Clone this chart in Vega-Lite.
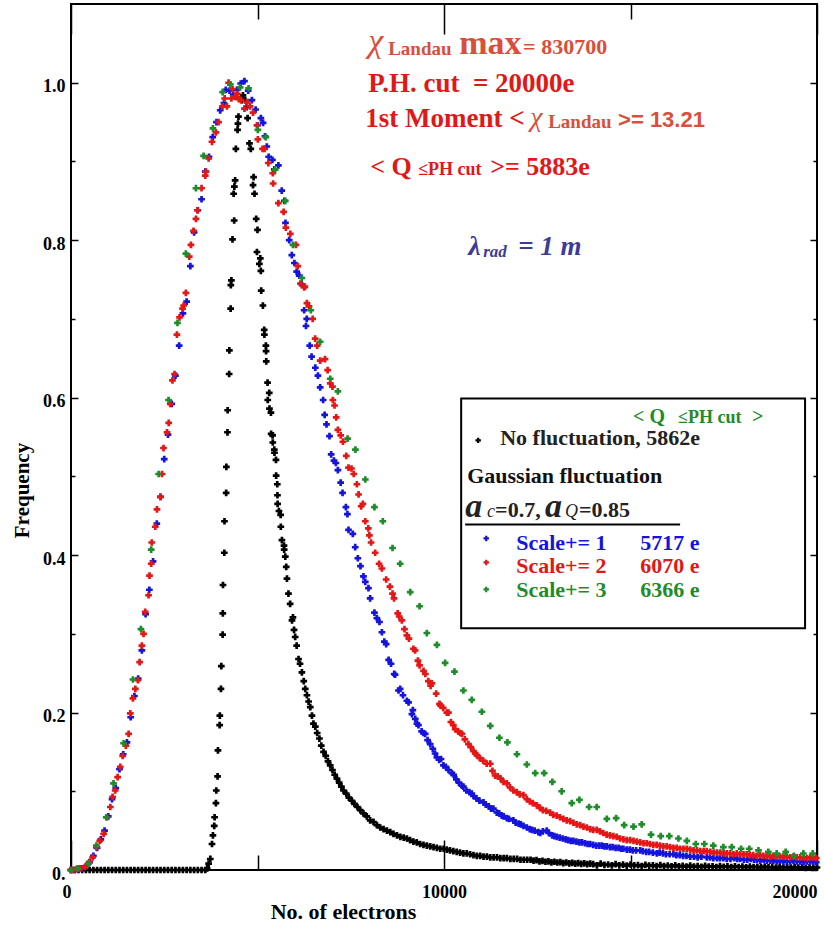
{
"$schema": "https://vega.github.io/schema/vega-lite/v6.json",
"width": 746, "height": 866,
"autosize": {"type": "none"},
"padding": {"left": 71, "top": 4, "right": 7, "bottom": 55},
"background": "white",
"data": {"values": [{}]},
"config": {
 "view": {"stroke": "black", "strokeWidth": 2},
 "axis": {"domain": false, "grid": false, "labelFont": "Liberation Serif", "labelFontWeight": "bold", "labelFontSize": 18, "labelColor": "black", "titleFont": "Liberation Serif", "titleFontWeight": "bold", "titleColor": "black", "tickColor": "black", "tickWidth": 1.5, "labelOverlap": false, "labelFlush": false}
},
"datasets": {
 "black": [
{"x":0,"y":0},{"x":100,"y":0},{"x":200,"y":0},{"x":300,"y":0},{"x":400,"y":0},{"x":500,"y":0},{"x":600,"y":0},{"x":700,"y":0},{"x":800,"y":0},{"x":900,"y":0},{"x":1000,"y":0},{"x":1100,"y":0},{"x":1200,"y":0},{"x":1300,"y":0},{"x":1400,"y":0},{"x":1500,"y":0},{"x":1600,"y":0},{"x":1700,"y":0},{"x":1800,"y":0},{"x":1900,"y":0},{"x":2000,"y":0},{"x":2100,"y":0},{"x":2200,"y":0},{"x":2300,"y":0},{"x":2400,"y":0},{"x":2500,"y":0},{"x":2600,"y":0},{"x":2700,"y":0},{"x":2800,"y":0},{"x":2900,"y":0},{"x":3000,"y":0},{"x":3100,"y":0},{"x":3200,"y":0},{"x":3300,"y":0},{"x":3400,"y":0},{"x":3500,"y":0},{"x":3600,"y":0},{"x":3650,"y":0.002},
{"x":3690,"y":0.008},{"x":3735,"y":0.014},{"x":3780,"y":0.033},{"x":3805,"y":0.044},{"x":3840,"y":0.056},{"x":3850,"y":0.067},{"x":3885,"y":0.085},{"x":3895,"y":0.101},{"x":3930,"y":0.119},{"x":3940,"y":0.152},{"x":3985,"y":0.184},{"x":3990,"y":0.196},{"x":4020,"y":0.23},{"x":4030,"y":0.259},{"x":4065,"y":0.299},{"x":4070,"y":0.326},{"x":4075,"y":0.362},{"x":4110,"y":0.403},{"x":4115,"y":0.443},{"x":4160,"y":0.479},{"x":4165,"y":0.512},{"x":4195,"y":0.556},{"x":4200,"y":0.584},{"x":4240,"y":0.63},{"x":4245,"y":0.66},{"x":4280,"y":0.713},{"x":4285,"y":0.743},{"x":4300,"y":0.749},{"x":4330,"y":0.801},{"x":4375,"y":0.825},{"x":4360,"y":0.859},{"x":4380,"y":0.868},{"x":4400,"y":0.876},{"x":4420,"y":0.916},{"x":4465,"y":0.94},{"x":4475,"y":0.948},{"x":4490,"y":0.957},{"x":4580,"y":0.978},{"x":4610,"y":0.984},{"x":4670,"y":0.978},{"x":4710,"y":0.969},{"x":4735,"y":0.955},{"x":4785,"y":0.923},{"x":4820,"y":0.916},{"x":4895,"y":0.88},{"x":4880,"y":0.87},{"x":4920,"y":0.859},{"x":4965,"y":0.827},{"x":5000,"y":0.813},{"x":4985,"y":0.785},{"x":5075,"y":0.777},{"x":5050,"y":0.77},{"x":5090,"y":0.761},{"x":5100,"y":0.736},{"x":5145,"y":0.717},{"x":5180,"y":0.686},{"x":5185,"y":0.68},{"x":5225,"y":0.666},{"x":5230,"y":0.659},{"x":5235,"y":0.646},{"x":5270,"y":0.619},{"x":5315,"y":0.606},{"x":5275,"y":0.597},{"x":5320,"y":0.586},{"x":5360,"y":0.581},{"x":5365,"y":0.554},{"x":5405,"y":0.552},{"x":5410,"y":0.543},{"x":5450,"y":0.534},{"x":5455,"y":0.53},{"x":5495,"y":0.521},{"x":5500,"y":0.501},{"x":5530,"y":0.49},{"x":5535,"y":0.476},{"x":5540,"y":0.465},{"x":5575,"y":0.456},{"x":5620,"y":0.451},{"x":5625,"y":0.436},{"x":5655,"y":0.419},{"x":5710,"y":0.412},{"x":5715,"y":0.407},{"x":5745,"y":0.398},{"x":5770,"y":0.385},{"x":5790,"y":0.37},
{"x":5830,"y":0.351},{"x":5875,"y":0.338},{"x":5925,"y":0.317},{"x":5950,"y":0.321},{"x":5980,"y":0.305},{"x":6010,"y":0.296},{"x":6050,"y":0.285},{"x":6100,"y":0.268},{"x":6140,"y":0.262},{"x":6190,"y":0.251},{"x":6240,"y":0.24},{"x":6280,"y":0.23},{"x":6325,"y":0.222},{"x":6370,"y":0.214},{"x":6415,"y":0.207},{"x":6460,"y":0.196},{"x":6500,"y":0.186},{"x":6550,"y":0.182},{"x":6600,"y":0.174},{"x":6660,"y":0.167},{"x":6710,"y":0.158},{"x":6770,"y":0.15},{"x":6830,"y":0.145},{"x":6890,"y":0.138},{"x":6950,"y":0.133},{"x":7010,"y":0.127},{"x":7070,"y":0.121},{"x":7130,"y":0.116},{"x":7190,"y":0.111},{"x":7250,"y":0.106},{"x":7305,"y":0.101},{"x":7380,"y":0.097},{"x":7450,"y":0.092},{"x":7530,"y":0.088},{"x":7600,"y":0.084},{"x":7680,"y":0.08},{"x":7755,"y":0.076},{"x":7840,"y":0.072},{"x":7930,"y":0.068},{"x":8020,"y":0.063},{"x":8110,"y":0.061},{"x":8200,"y":0.057},{"x":8290,"y":0.054},{"x":8380,"y":0.052},{"x":8470,"y":0.05},{"x":8560,"y":0.048},{"x":8645,"y":0.046},{"x":8740,"y":0.044},{"x":8830,"y":0.042},{"x":8920,"y":0.041},{"x":9005,"y":0.04},{"x":9090,"y":0.038},{"x":9180,"y":0.036},{"x":9270,"y":0.035},{"x":9360,"y":0.033},{"x":9450,"y":0.032},{"x":9540,"y":0.031},{"x":9630,"y":0.03},{"x":9720,"y":0.029},{"x":9810,"y":0.028},{"x":9900,"y":0.027},{"x":9990,"y":0.027},{"x":10075,"y":0.026},{"x":10160,"y":0.025},{"x":10250,"y":0.024},{"x":10340,"y":0.023},{"x":10430,"y":0.022},{"x":10520,"y":0.021},{"x":10610,"y":0.021},{"x":10700,"y":0.02},{"x":10790,"y":0.019},{"x":10880,"y":0.018},{"x":10970,"y":0.018},{"x":11060,"y":0.017},{"x":11150,"y":0.017},{"x":11240,"y":0.016},{"x":11330,"y":0.016},{"x":11420,"y":0.016},{"x":11510,"y":0.015},{"x":11600,"y":0.015},{"x":11685,"y":0.015},{"x":11780,"y":0.014},{"x":11870,"y":0.014},{"x":11960,"y":0.014},{"x":12050,"y":0.013},{"x":12140,"y":0.013},{"x":12230,"y":0.013},{"x":12320,"y":0.013},{"x":12400,"y":0.012},
{"x":12480,"y":0.0125},{"x":12560,"y":0.011},{"x":12640,"y":0.0115},{"x":12720,"y":0.0105},{"x":12800,"y":0.011},{"x":12880,"y":0.0098},{"x":12960,"y":0.0105},{"x":13040,"y":0.0095},{"x":13120,"y":0.01},{"x":13200,"y":0.0088},{"x":13280,"y":0.0095},{"x":13360,"y":0.0085},{"x":13440,"y":0.009},{"x":13520,"y":0.008},{"x":13600,"y":0.0087},{"x":13680,"y":0.0078},{"x":13760,"y":0.0083},{"x":13840,"y":0.0075},{"x":13920,"y":0.008},
{"x":14000,"y":0.0075},{"x":14100,"y":0.006},{"x":14200,"y":0.008},{"x":14300,"y":0.0065},{"x":14400,"y":0.007},{"x":14500,"y":0.0058},{"x":14600,"y":0.0075},{"x":14700,"y":0.006},{"x":14800,"y":0.0068},{"x":14900,"y":0.0055},{"x":15000,"y":0.007},{"x":15100,"y":0.0058},{"x":15200,"y":0.0063},{"x":15300,"y":0.005},{"x":15400,"y":0.0065},{"x":15500,"y":0.0055},{"x":15600,"y":0.006},{"x":15700,"y":0.0048},{"x":15800,"y":0.0062},{"x":15900,"y":0.005},{"x":16000,"y":0.0057},{"x":16100,"y":0.0046},{"x":16200,"y":0.0058},{"x":16300,"y":0.0047},{"x":16400,"y":0.0052},{"x":16500,"y":0.0044},{"x":16600,"y":0.0055},{"x":16700,"y":0.0043},{"x":16800,"y":0.005},{"x":16900,"y":0.004},{"x":17000,"y":0.0052},{"x":17100,"y":0.0042},{"x":17200,"y":0.0047},{"x":17300,"y":0.0038},{"x":17400,"y":0.0049},{"x":17500,"y":0.004},{"x":17600,"y":0.0045},{"x":17700,"y":0.0036},{"x":17800,"y":0.0046},{"x":17900,"y":0.0038},{"x":18000,"y":0.0043},{"x":18100,"y":0.0035},{"x":18200,"y":0.0044},{"x":18300,"y":0.0036},{"x":18400,"y":0.004},{"x":18500,"y":0.0033},{"x":18600,"y":0.0042},{"x":18700,"y":0.0034},{"x":18800,"y":0.0038},{"x":18900,"y":0.0031},{"x":19000,"y":0.004},{"x":19100,"y":0.0032},{"x":19200,"y":0.0036},{"x":19300,"y":0.003},{"x":19400,"y":0.0038},{"x":19500,"y":0.003},{"x":19600,"y":0.0034},{"x":19700,"y":0.0028},{"x":19800,"y":0.0035},{"x":19900,"y":0.0029},{"x":20000,"y":0.0032}
 ],
 "blue": [
{"x":0,"y":0},{"x":100,"y":0},{"x":200,"y":0.001},{"x":300,"y":0.002},{"x":400,"y":0.005},{"x":500,"y":0.01},{"x":600,"y":0.018},{"x":700,"y":0.028},{"x":800,"y":0.039},{"x":900,"y":0.05},{"x":1000,"y":0.068},{"x":1100,"y":0.09},{"x":1200,"y":0.104},{"x":1300,"y":0.128},{"x":1400,"y":0.147},{"x":1500,"y":0.162},{"x":1600,"y":0.194},{"x":1700,"y":0.221},{"x":1800,"y":0.243},{"x":1900,"y":0.279},{"x":2000,"y":0.325},{"x":2100,"y":0.356},{"x":2200,"y":0.392},{"x":2300,"y":0.44},{"x":2400,"y":0.474},{"x":2500,"y":0.522},{"x":2600,"y":0.553},{"x":2700,"y":0.592},{"x":2800,"y":0.628},{"x":2900,"y":0.666},{"x":3000,"y":0.707},{"x":3100,"y":0.722},{"x":3200,"y":0.767},{"x":3300,"y":0.81},{"x":3400,"y":0.838},{"x":3500,"y":0.852},{"x":3600,"y":0.887},{"x":3700,"y":0.906},{"x":3800,"y":0.931},{"x":3900,"y":0.95},{"x":4000,"y":0.965},{"x":4100,"y":0.974},{"x":4150,"y":0.991},{"x":4250,"y":0.99},{"x":4350,"y":0.985},{"x":4450,"y":0.991},{"x":4550,"y":0.999},{"x":4650,"y":1.002},{"x":4750,"y":0.99},{"x":4850,"y":0.978},{"x":4950,"y":0.966},{"x":5000,"y":0.946},{"x":5090,"y":0.955},{"x":5150,"y":0.949},{"x":5200,"y":0.932},{"x":5250,"y":0.919},{"x":5300,"y":0.906},{"x":5400,"y":0.902},{"x":5450,"y":0.89},{"x":5560,"y":0.895},{"x":5650,"y":0.863},{"x":5720,"y":0.85},{"x":5750,"y":0.822},{"x":5850,"y":0.8},{"x":5920,"y":0.781},{"x":5990,"y":0.771},{"x":6050,"y":0.76},{"x":6120,"y":0.755},{"x":6180,"y":0.744},{"x":6250,"y":0.711},{"x":6320,"y":0.7},{"x":6300,"y":0.691},{"x":6400,"y":0.666},{"x":6450,"y":0.652},{"x":6550,"y":0.638},{"x":6620,"y":0.628},{"x":6680,"y":0.613},{"x":6760,"y":0.597},{"x":6800,"y":0.578},{"x":6850,"y":0.566},{"x":6930,"y":0.551},{"x":6975,"y":0.528},{"x":7050,"y":0.52},{"x":7100,"y":0.517},{"x":7155,"y":0.508},{"x":7230,"y":0.492},{"x":7280,"y":0.479},{"x":7370,"y":0.461},{"x":7410,"y":0.452},{"x":7440,"y":0.432},{"x":7555,"y":0.427},{"x":7620,"y":0.41},{"x":7690,"y":0.396},{"x":7760,"y":0.386},{"x":7840,"y":0.373},{"x":7890,"y":0.366},{"x":7975,"y":0.358},{"x":8020,"y":0.345},{"x":8135,"y":0.327},{"x":8200,"y":0.32},{"x":8270,"y":0.315},{"x":8335,"y":0.302},{"x":8400,"y":0.29},{"x":8450,"y":0.287},{"x":8515,"y":0.267},{"x":8580,"y":0.262},{"x":8665,"y":0.249},{"x":8690,"y":0.248},{"x":8780,"y":0.228},{"x":8825,"y":0.23},{"x":8900,"y":0.222},{"x":9005,"y":0.215},{"x":9050,"y":0.213},{"x":9140,"y":0.198},{"x":9165,"y":0.203},{"x":9230,"y":0.192},{"x":9275,"y":0.186},{"x":9315,"y":0.184},{"x":9400,"y":0.176},{"x":9450,"y":0.174},{"x":9495,"y":0.173},{"x":9560,"y":0.165},{"x":9630,"y":0.16},{"x":9700,"y":0.154},{"x":9760,"y":0.148},{"x":9810,"y":0.143},{"x":9870,"y":0.14},{"x":9920,"y":0.141},{"x":9985,"y":0.133},{"x":10050,"y":0.131},{"x":10120,"y":0.127},{"x":10210,"y":0.123},{"x":10260,"y":0.121},{"x":10330,"y":0.115},{"x":10400,"y":0.111},{"x":10480,"y":0.107},{"x":10520,"y":0.106},{"x":10600,"y":0.101},{"x":10680,"y":0.099},{"x":10745,"y":0.097},{"x":10790,"y":0.094},{"x":10870,"y":0.091},{"x":10950,"y":0.088},{"x":11060,"y":0.086},{"x":11120,"y":0.083},{"x":11200,"y":0.081},{"x":11260,"y":0.078},{"x":11325,"y":0.078},{"x":11415,"y":0.073},{"x":11480,"y":0.072},{"x":11550,"y":0.069},{"x":11600,"y":0.068},{"x":11685,"y":0.066},{"x":11740,"y":0.065},{"x":11860,"y":0.063},{"x":11920,"y":0.06},{"x":12000,"y":0.059},{"x":12060,"y":0.058},{"x":12130,"y":0.056},{"x":12220,"y":0.054},{"x":12300,"y":0.052},{"x":12360,"y":0.051},{"x":12430,"y":0.05},{"x":12530,"y":0.048},{"x":12580,"y":0.047},{"x":12650,"y":0.049},{"x":12755,"y":0.05},{"x":12810,"y":0.047},{"x":12900,"y":0.044},{"x":12960,"y":0.043},{"x":13025,"y":0.042},{"x":13100,"y":0.041},{"x":13180,"y":0.04},{"x":13260,"y":0.039},{"x":13330,"y":0.038},{"x":13400,"y":0.037},{"x":13470,"y":0.037},{"x":13550,"y":0.036},{"x":13630,"y":0.035},{"x":13700,"y":0.035},{"x":13780,"y":0.034},{"x":13850,"y":0.033},{"x":13920,"y":0.033},{"x":14000,"y":0.032},{"x":14080,"y":0.031},{"x":14160,"y":0.031},{"x":14230,"y":0.031},{"x":14300,"y":0.03},{"x":14365,"y":0.03},{"x":14450,"y":0.029},{"x":14520,"y":0.029},{"x":14600,"y":0.028},{"x":14680,"y":0.028},{"x":14750,"y":0.027},{"x":14810,"y":0.027},{"x":14900,"y":0.026},{"x":14980,"y":0.026},{"x":15060,"y":0.025},{"x":15150,"y":0.025},{"x":15260,"y":0.025},{"x":15330,"y":0.024},{"x":15420,"y":0.023},{"x":15500,"y":0.023},{"x":15600,"y":0.022},{"x":15705,"y":0.021},{"x":15780,"y":0.022},{"x":15870,"y":0.021},{"x":15950,"y":0.02},{"x":16050,"y":0.02},{"x":16150,"y":0.02},{"x":16230,"y":0.019},{"x":16320,"y":0.019},{"x":16410,"y":0.018},{"x":16500,"y":0.018},{"x":16600,"y":0.017},{"x":16700,"y":0.017},{"x":16800,"y":0.016},{"x":16900,"y":0.017},{"x":17045,"y":0.016},{"x":17130,"y":0.016},{"x":17220,"y":0.015},{"x":17320,"y":0.015},{"x":17400,"y":0.015},{"x":17490,"y":0.015},{"x":17580,"y":0.014},{"x":17680,"y":0.014},{"x":17780,"y":0.015},{"x":17860,"y":0.014},{"x":17940,"y":0.014},{"x":18040,"y":0.013},{"x":18130,"y":0.013},{"x":18220,"y":0.014},{"x":18310,"y":0.013},{"x":18385,"y":0.013},{"x":18480,"y":0.012},{"x":18570,"y":0.013},{"x":18660,"y":0.012},{"x":18750,"y":0.012},{"x":18830,"y":0.012},{"x":18920,"y":0.011},{"x":19010,"y":0.012},{"x":19100,"y":0.011},{"x":19190,"y":0.011},{"x":19280,"y":0.011},{"x":19370,"y":0.012},{"x":19460,"y":0.011},{"x":19550,"y":0.011},{"x":19640,"y":0.01},{"x":19730,"y":0.011},{"x":19820,"y":0.011},{"x":19900,"y":0.011},{"x":19980,"y":0.01}
 ],
 "red": [
{"x":0,"y":0},{"x":60,"y":0},{"x":150,"y":0.001},{"x":250,"y":0.002},{"x":380,"y":0.004},{"x":490,"y":0.01},{"x":580,"y":0.016},{"x":680,"y":0.029},{"x":770,"y":0.037},{"x":875,"y":0.046},{"x":965,"y":0.067},{"x":1055,"y":0.08},{"x":1115,"y":0.093},{"x":1185,"y":0.101},{"x":1250,"y":0.118},{"x":1320,"y":0.131},{"x":1385,"y":0.145},{"x":1470,"y":0.158},{"x":1545,"y":0.173},{"x":1590,"y":0.199},{"x":1660,"y":0.218},{"x":1725,"y":0.23},{"x":1795,"y":0.241},{"x":1840,"y":0.264},{"x":1900,"y":0.285},{"x":1945,"y":0.3},{"x":1990,"y":0.328},{"x":2080,"y":0.349},{"x":2105,"y":0.374},{"x":2150,"y":0.389},{"x":2165,"y":0.416},{"x":2260,"y":0.436},{"x":2305,"y":0.458},{"x":2395,"y":0.474},{"x":2440,"y":0.503},{"x":2480,"y":0.536},{"x":2575,"y":0.556},{"x":2620,"y":0.568},{"x":2660,"y":0.592},{"x":2720,"y":0.622},{"x":2775,"y":0.63},{"x":2840,"y":0.68},{"x":2910,"y":0.702},{"x":2990,"y":0.713},{"x":3020,"y":0.717},{"x":3080,"y":0.733},{"x":3170,"y":0.779},{"x":3215,"y":0.794},{"x":3285,"y":0.812},{"x":3350,"y":0.827},{"x":3390,"y":0.838},{"x":3500,"y":0.866},{"x":3600,"y":0.882},{"x":3620,"y":0.887},{"x":3690,"y":0.904},{"x":3780,"y":0.925},{"x":3885,"y":0.937},{"x":3955,"y":0.95},{"x":4060,"y":0.97},{"x":4120,"y":0.98},{"x":4180,"y":0.97},{"x":4225,"y":1.0},{"x":4300,"y":0.98},{"x":4330,"y":0.992},{"x":4400,"y":0.982},{"x":4460,"y":0.986},{"x":4500,"y":0.979},{"x":4560,"y":0.978},{"x":4650,"y":0.967},{"x":4720,"y":0.975},{"x":4800,"y":0.97},{"x":4880,"y":0.962},{"x":4985,"y":0.946},{"x":5010,"y":0.928},{"x":5135,"y":0.916},{"x":5190,"y":0.916},{"x":5290,"y":0.898},{"x":5410,"y":0.885},{"x":5420,"y":0.872},{"x":5560,"y":0.847},{"x":5700,"y":0.836},{"x":5760,"y":0.816},{"x":5880,"y":0.808},{"x":6030,"y":0.794},{"x":6080,"y":0.767},{"x":6150,"y":0.745},{"x":6250,"y":0.74},{"x":6270,"y":0.741},{"x":6325,"y":0.72},{"x":6380,"y":0.716},{"x":6480,"y":0.7},{"x":6545,"y":0.675},{"x":6600,"y":0.666},{"x":6680,"y":0.647},{"x":6810,"y":0.649},{"x":6880,"y":0.635},{"x":6950,"y":0.618},{"x":7010,"y":0.614},{"x":7020,"y":0.597},{"x":7065,"y":0.59},{"x":7110,"y":0.575},{"x":7155,"y":0.559},{"x":7230,"y":0.552},{"x":7290,"y":0.544},{"x":7380,"y":0.526},{"x":7440,"y":0.511},{"x":7520,"y":0.51},{"x":7580,"y":0.503},{"x":7665,"y":0.49},{"x":7710,"y":0.477},{"x":7780,"y":0.462},{"x":7825,"y":0.465},{"x":7890,"y":0.443},{"x":7970,"y":0.434},{"x":8000,"y":0.425},{"x":8045,"y":0.416},{"x":8155,"y":0.403},{"x":8260,"y":0.389},{"x":8335,"y":0.383},{"x":8450,"y":0.369},{"x":8550,"y":0.36},{"x":8620,"y":0.351},{"x":8660,"y":0.345},{"x":8760,"y":0.326},{"x":8800,"y":0.322},{"x":8870,"y":0.317},{"x":8940,"y":0.306},{"x":9005,"y":0.298},{"x":9060,"y":0.294},{"x":9180,"y":0.281},{"x":9225,"y":0.279},{"x":9300,"y":0.266},{"x":9345,"y":0.26},{"x":9450,"y":0.253},{"x":9500,"y":0.249},{"x":9580,"y":0.24},{"x":9640,"y":0.234},{"x":9675,"y":0.237},{"x":9790,"y":0.224},{"x":9880,"y":0.211},{"x":9900,"y":0.209},{"x":9980,"y":0.206},{"x":10075,"y":0.2},{"x":10120,"y":0.2},{"x":10185,"y":0.188},{"x":10250,"y":0.184},{"x":10300,"y":0.179},{"x":10380,"y":0.176},{"x":10435,"y":0.174},{"x":10480,"y":0.173},{"x":10560,"y":0.166},{"x":10655,"y":0.16},{"x":10720,"y":0.156},{"x":10790,"y":0.151},{"x":10840,"y":0.148},{"x":10880,"y":0.146},{"x":10960,"y":0.142},{"x":11050,"y":0.139},{"x":11145,"y":0.135},{"x":11240,"y":0.135},{"x":11300,"y":0.126},{"x":11370,"y":0.12},{"x":11440,"y":0.119},{"x":11520,"y":0.116},{"x":11595,"y":0.112},{"x":11685,"y":0.11},{"x":11770,"y":0.105},{"x":11860,"y":0.101},{"x":11950,"y":0.099},{"x":12030,"y":0.096},{"x":12130,"y":0.095},{"x":12220,"y":0.09},{"x":12300,"y":0.087},{"x":12380,"y":0.085},{"x":12490,"y":0.082},{"x":12570,"y":0.079},{"x":12650,"y":0.076},{"x":12740,"y":0.075},{"x":12845,"y":0.073},{"x":12930,"y":0.07},{"x":13020,"y":0.069},{"x":13110,"y":0.067},{"x":13200,"y":0.065},{"x":13290,"y":0.063},{"x":13380,"y":0.062},{"x":13470,"y":0.06},{"x":13560,"y":0.058},{"x":13650,"y":0.057},{"x":13740,"y":0.055},{"x":13830,"y":0.054},{"x":13920,"y":0.052},{"x":14000,"y":0.051},{"x":14095,"y":0.051},{"x":14180,"y":0.049},{"x":14270,"y":0.047},{"x":14360,"y":0.045},{"x":14450,"y":0.044},{"x":14540,"y":0.043},{"x":14630,"y":0.042},{"x":14720,"y":0.04},{"x":14810,"y":0.039},{"x":14900,"y":0.038},{"x":14990,"y":0.038},{"x":15080,"y":0.037},{"x":15170,"y":0.036},{"x":15260,"y":0.035},{"x":15350,"y":0.034},{"x":15435,"y":0.034},{"x":15520,"y":0.033},{"x":15610,"y":0.032},{"x":15700,"y":0.032},{"x":15790,"y":0.031},{"x":15880,"y":0.03},{"x":15970,"y":0.03},{"x":16060,"y":0.029},{"x":16150,"y":0.028},{"x":16240,"y":0.028},{"x":16330,"y":0.027},{"x":16420,"y":0.027},{"x":16510,"y":0.027},{"x":16600,"y":0.026},{"x":16690,"y":0.025},{"x":16780,"y":0.025},{"x":16870,"y":0.024},{"x":16960,"y":0.024},{"x":17045,"y":0.024},{"x":17140,"y":0.023},{"x":17230,"y":0.022},{"x":17320,"y":0.022},{"x":17410,"y":0.022},{"x":17500,"y":0.021},{"x":17580,"y":0.021},{"x":17670,"y":0.021},{"x":17760,"y":0.02},{"x":17850,"y":0.021},{"x":17940,"y":0.02},{"x":18030,"y":0.02},{"x":18115,"y":0.02},{"x":18200,"y":0.019},{"x":18290,"y":0.019},{"x":18380,"y":0.018},{"x":18470,"y":0.019},{"x":18560,"y":0.018},{"x":18650,"y":0.018},{"x":18740,"y":0.017},{"x":18830,"y":0.018},{"x":18920,"y":0.017},{"x":19010,"y":0.017},{"x":19100,"y":0.017},{"x":19190,"y":0.017},{"x":19280,"y":0.016},{"x":19370,"y":0.017},{"x":19460,"y":0.016},{"x":19550,"y":0.016},{"x":19640,"y":0.016},{"x":19730,"y":0.015},{"x":19820,"y":0.016},{"x":19900,"y":0.016},{"x":19980,"y":0.015}
 ],
 "green": [
{"x":0,"y":0},{"x":180,"y":0.002},{"x":470,"y":0.008},{"x":680,"y":0.031},{"x":945,"y":0.067},{"x":1140,"y":0.11},{"x":1410,"y":0.161},{"x":1660,"y":0.242},{"x":1875,"y":0.306},{"x":2150,"y":0.407},{"x":2350,"y":0.503},{"x":2615,"y":0.597},{"x":2855,"y":0.695},{"x":3080,"y":0.783},{"x":3350,"y":0.866},{"x":3555,"y":0.907},{"x":3805,"y":0.942},{"x":4065,"y":0.988},{"x":4270,"y":0.998},{"x":4535,"y":0.994},{"x":4760,"y":0.993},{"x":5010,"y":0.94},{"x":5225,"y":0.931},{"x":5475,"y":0.89},{"x":5745,"y":0.85},{"x":5950,"y":0.794},{"x":6190,"y":0.752},{"x":6430,"y":0.711},{"x":6680,"y":0.671},{"x":6950,"y":0.624},{"x":7155,"y":0.608},{"x":7415,"y":0.548},{"x":7625,"y":0.534},{"x":7890,"y":0.496},{"x":8135,"y":0.461},{"x":8360,"y":0.443},{"x":8620,"y":0.409},{"x":8825,"y":0.389},{"x":9095,"y":0.353},{"x":9345,"y":0.335},{"x":9540,"y":0.301},{"x":9810,"y":0.286},{"x":10030,"y":0.263},{"x":10280,"y":0.252},{"x":10520,"y":0.228},{"x":10745,"y":0.216},{"x":11015,"y":0.201},{"x":11240,"y":0.183},{"x":11485,"y":0.168},{"x":11700,"y":0.162},{"x":11955,"y":0.147},{"x":12220,"y":0.134},{"x":12445,"y":0.123},{"x":12685,"y":0.123},{"x":12905,"y":0.112},{"x":13155,"y":0.1},{"x":13425,"y":0.085},{"x":13630,"y":0.089},{"x":13890,"y":0.08},{"x":14095,"y":0.08},{"x":14365,"y":0.065},{"x":14615,"y":0.066},{"x":14830,"y":0.057},{"x":15080,"y":0.055},{"x":15300,"y":0.058},{"x":15550,"y":0.045},{"x":15810,"y":0.043},{"x":16040,"y":0.043},{"x":16285,"y":0.04},{"x":16510,"y":0.037},{"x":16750,"y":0.033},{"x":16980,"y":0.033},{"x":17220,"y":0.031},{"x":17490,"y":0.029},{"x":17715,"y":0.029},{"x":17965,"y":0.027},{"x":18185,"y":0.027},{"x":18430,"y":0.025},{"x":18695,"y":0.023},{"x":18920,"y":0.021},{"x":19160,"y":0.023},{"x":19385,"y":0.018},{"x":19635,"y":0.021},{"x":19885,"y":0.021}
 ]
},
"layer": [
 {"data": {"name": "black"},
  "mark": {"type": "point", "shape": "cross", "filled": true, "size": 45, "color": "black", "opacity": 1},
  "encoding": {
   "x": {"field": "x", "type": "quantitative", "scale": {"domain": [0, 20000], "nice": false},
    "axis": {"orient": "bottom", "values": [0, 5000, 10000, 15000, 20000],
     "tickSize": {"condition": {"test": "datum.value % 10000 == 0", "value": -30}, "value": -15},
     "labelPadding": 43,
     "labelExpr": "datum.value % 10000 == 0 ? format(datum.value, 'd') : ''",
     "labelAlign": {"condition": {"test": "datum.value == 10000", "value": "center"}, "value": "right"},
     "title": "No. of electrons", "titleFontSize": 22, "titleX": 272, "titleY": 48, "titleBaseline": "alphabetic", "titleAlign": "center"}},
   "y": {"field": "y", "type": "quantitative", "scale": {"domain": [0, 1.1], "nice": false},
    "axis": {"orient": "left", "values": [0, 0.1, 0.2, 0.3, 0.4, 0.5, 0.6, 0.7, 0.8, 0.9, 1],
     "tickSize": {"condition": {"test": "round(datum.value * 10) % 2 == 0", "value": -7}, "value": -4},
     "labelPadding": 13, "labelOffset": 4,
     "labelExpr": "round(datum.value * 10) % 2 == 1 ? '' : (datum.value == 0 ? '0.' : format(datum.value, '.1f'))",
     "title": "Frequency", "titleFontSize": 21, "titleX": -43, "titleY": 486, "titleBaseline": "alphabetic", "titleAlign": "center"}}
  }},
 {"data": {"name": "blue"},
  "mark": {"type": "point", "shape": "cross", "filled": true, "size": 45, "color": "#1414dc", "opacity": 1},
  "encoding": {
   "x": {"field": "x", "type": "quantitative", "scale": {"domain": [0, 20000], "nice": false},
    "axis": {"orient": "top", "values": [0, 5000, 10000, 15000, 20000], "labels": false,
     "tickSize": {"condition": {"test": "datum.value % 10000 == 0", "value": -30}, "value": -15}, "title": null}},
   "y": {"field": "y", "type": "quantitative", "scale": {"domain": [0, 1.1], "nice": false},
    "axis": {"orient": "right", "values": [0, 0.1, 0.2, 0.3, 0.4, 0.5, 0.6, 0.7, 0.8, 0.9, 1], "labels": false,
     "tickSize": {"condition": {"test": "round(datum.value * 10) % 2 == 0", "value": -7}, "value": -4}, "title": null}}
  }},
 {"data": {"name": "red"},
  "mark": {"type": "point", "shape": "cross", "filled": true, "size": 45, "color": "#e41616", "opacity": 1},
  "encoding": {
   "x": {"field": "x", "type": "quantitative", "scale": {"domain": [0, 20000], "nice": false}, "axis": null},
   "y": {"field": "y", "type": "quantitative", "scale": {"domain": [0, 1.1], "nice": false}, "axis": null}
  }},
 {"data": {"name": "green"},
  "mark": {"type": "point", "shape": "cross", "filled": true, "size": 45, "color": "#1e8c2a", "opacity": 1},
  "encoding": {
   "x": {"field": "x", "type": "quantitative", "scale": {"domain": [0, 20000], "nice": false}, "axis": null},
   "y": {"field": "y", "type": "quantitative", "scale": {"domain": [0, 1.1], "nice": false}, "axis": null}
  }},
 {"mark": {"type": "rect", "fill": "white", "stroke": "black", "strokeWidth": 2},
  "encoding": {
   "x": {"datum": 10460, "type": "quantitative", "axis": null},
   "x2": {"datum": 19680},
   "y": {"datum": 0.599, "type": "quantitative", "axis": null},
   "y2": {"datum": 0.307}
  }},
 {"mark": {"type": "rule", "stroke": "black", "strokeWidth": 2},
  "encoding": {
   "x": {"datum": 10567, "type": "quantitative", "axis": null},
   "x2": {"datum": 16330},
   "y": {"datum": 0.439, "type": "quantitative", "axis": null}
  }},
 {"mark": {"type": "text", "text": "χ", "font": "Liberation Serif", "fontStyle": "italic", "fontSize": 34, "color": "#d8503c", "align": "left", "baseline": "alphabetic"},
  "encoding": {"x": {"datum": 7968, "type": "quantitative", "axis": null}, "y": {"datum": 1.039, "type": "quantitative", "axis": null}}},
 {"mark": {"type": "text", "text": "Landau", "font": "Liberation Serif", "fontWeight": "bold", "fontSize": 19, "color": "#d8503c", "align": "left", "baseline": "alphabetic"},
  "encoding": {"x": {"datum": 8504, "type": "quantitative", "axis": null}, "y": {"datum": 1.035, "type": "quantitative", "axis": null}}},
 {"mark": {"type": "text", "text": "max", "font": "Liberation Serif", "fontWeight": "bold", "fontSize": 34, "color": "#d8503c", "align": "left", "baseline": "alphabetic"},
  "encoding": {"x": {"datum": 10406, "type": "quantitative", "axis": null}, "y": {"datum": 1.036, "type": "quantitative", "axis": null}}},
 {"mark": {"type": "text", "text": "= 830700", "font": "Liberation Serif", "fontWeight": "bold", "fontSize": 22, "color": "#d8503c", "align": "left", "baseline": "alphabetic"},
  "encoding": {"x": {"datum": 12121, "type": "quantitative", "axis": null}, "y": {"datum": 1.036, "type": "quantitative", "axis": null}}},
 {"mark": {"type": "text", "text": "P.H. cut\u00a0 = 20000e", "font": "Liberation Serif", "fontWeight": "bold", "fontSize": 27, "color": "#e01818", "align": "left", "baseline": "alphabetic"},
  "encoding": {"x": {"datum": 7968, "type": "quantitative", "axis": null}, "y": {"datum": 0.988, "type": "quantitative", "axis": null}}},
 {"mark": {"type": "text", "text": "1st Moment <", "font": "Liberation Serif", "fontWeight": "bold", "fontSize": 27, "color": "#e01818", "align": "left", "baseline": "alphabetic"},
  "encoding": {"x": {"datum": 7888, "type": "quantitative", "axis": null}, "y": {"datum": 0.9435, "type": "quantitative", "axis": null}}},
 {"mark": {"type": "text", "text": "χ", "font": "Liberation Serif", "fontStyle": "italic", "fontSize": 28, "color": "#d8503c", "align": "left", "baseline": "alphabetic"},
  "encoding": {"x": {"datum": 12309, "type": "quantitative", "axis": null}, "y": {"datum": 0.9447, "type": "quantitative", "axis": null}}},
 {"mark": {"type": "text", "text": "Landau", "font": "Liberation Serif", "fontWeight": "bold", "fontSize": 19, "color": "#d8503c", "align": "left", "baseline": "alphabetic"},
  "encoding": {"x": {"datum": 12792, "type": "quantitative", "axis": null}, "y": {"datum": 0.9422, "type": "quantitative", "axis": null}}},
 {"mark": {"type": "text", "text": ">= 13.21", "font": "Liberation Sans", "fontWeight": "bold", "fontSize": 22, "color": "#d8503c", "align": "left", "baseline": "alphabetic"},
  "encoding": {"x": {"datum": 14667, "type": "quantitative", "axis": null}, "y": {"datum": 0.9435, "type": "quantitative", "axis": null}}},
 {"mark": {"type": "text", "text": "< Q", "font": "Liberation Serif", "fontWeight": "bold", "fontSize": 26, "color": "#e01818", "align": "left", "baseline": "alphabetic"},
  "encoding": {"x": {"datum": 8022, "type": "quantitative", "axis": null}, "y": {"datum": 0.8825, "type": "quantitative", "axis": null}}},
 {"mark": {"type": "text", "text": "≤PH cut", "font": "Liberation Serif", "fontWeight": "bold", "fontSize": 18, "color": "#e01818", "align": "left", "baseline": "alphabetic"},
  "encoding": {"x": {"datum": 9309, "type": "quantitative", "axis": null}, "y": {"datum": 0.8825, "type": "quantitative", "axis": null}}},
 {"mark": {"type": "text", "text": ">= 5883e", "font": "Liberation Serif", "fontWeight": "bold", "fontSize": 26, "color": "#e01818", "align": "left", "baseline": "alphabetic"},
  "encoding": {"x": {"datum": 11238, "type": "quantitative", "axis": null}, "y": {"datum": 0.8825, "type": "quantitative", "axis": null}}},
 {"mark": {"type": "text", "text": "λ", "font": "Liberation Serif", "fontStyle": "italic", "fontWeight": "bold", "fontSize": 28, "color": "#3c3c96", "align": "left", "baseline": "alphabetic"},
  "encoding": {"x": {"datum": 10648, "type": "quantitative", "axis": null}, "y": {"datum": 0.7808, "type": "quantitative", "axis": null}}},
 {"mark": {"type": "text", "text": "rad", "font": "Liberation Serif", "fontStyle": "italic", "fontWeight": "bold", "fontSize": 17, "color": "#3c3c96", "align": "left", "baseline": "alphabetic"},
  "encoding": {"x": {"datum": 11050, "type": "quantitative", "axis": null}, "y": {"datum": 0.7783, "type": "quantitative", "axis": null}}},
 {"mark": {"type": "text", "text": "= 1 m", "font": "Liberation Serif", "fontStyle": "italic", "fontWeight": "bold", "fontSize": 27, "color": "#3c3c96", "align": "left", "baseline": "alphabetic"},
  "encoding": {"x": {"datum": 11988, "type": "quantitative", "axis": null}, "y": {"datum": 0.7808, "type": "quantitative", "axis": null}}},
 {"mark": {"type": "text", "text": "< Q", "font": "Liberation Serif", "fontWeight": "bold", "fontSize": 20, "color": "#1e8c2a", "align": "left", "baseline": "alphabetic"},
  "encoding": {"x": {"datum": 15070, "type": "quantitative", "axis": null}, "y": {"datum": 0.5673, "type": "quantitative", "axis": null}}},
 {"mark": {"type": "text", "text": "≤PH cut", "font": "Liberation Serif", "fontWeight": "bold", "fontSize": 18, "color": "#1e8c2a", "align": "left", "baseline": "alphabetic"},
  "encoding": {"x": {"datum": 16276, "type": "quantitative", "axis": null}, "y": {"datum": 0.5673, "type": "quantitative", "axis": null}}},
 {"mark": {"type": "text", "text": ">", "font": "Liberation Serif", "fontWeight": "bold", "fontSize": 20, "color": "#1e8c2a", "align": "left", "baseline": "alphabetic"},
  "encoding": {"x": {"datum": 18260, "type": "quantitative", "axis": null}, "y": {"datum": 0.5673, "type": "quantitative", "axis": null}}},
 {"mark": {"type": "point", "shape": "cross", "filled": true, "size": 30, "color": "black", "opacity": 1},
  "encoding": {"x": {"datum": 10916, "type": "quantitative", "axis": null}, "y": {"datum": 0.5457, "type": "quantitative", "axis": null}}},
 {"mark": {"type": "text", "text": "No fluctuation, 5862e", "font": "Liberation Serif", "fontWeight": "bold", "fontSize": 22, "color": "#222222", "align": "left", "baseline": "alphabetic"},
  "encoding": {"x": {"datum": 11506, "type": "quantitative", "axis": null}, "y": {"datum": 0.5394, "type": "quantitative", "axis": null}}},
 {"mark": {"type": "text", "text": "Gaussian fluctuation", "font": "Liberation Serif", "fontWeight": "bold", "fontSize": 22, "color": "#111111", "align": "left", "baseline": "alphabetic"},
  "encoding": {"x": {"datum": 10621, "type": "quantitative", "axis": null}, "y": {"datum": 0.4911, "type": "quantitative", "axis": null}}},
 {"mark": {"type": "text", "text": "a", "font": "Liberation Serif", "fontStyle": "italic", "fontWeight": "bold", "fontSize": 34, "color": "#222222", "align": "left", "baseline": "alphabetic"},
  "encoding": {"x": {"datum": 10567, "type": "quantitative", "axis": null}, "y": {"datum": 0.4479, "type": "quantitative", "axis": null}}},
 {"mark": {"type": "text", "text": "c", "font": "Liberation Serif", "fontStyle": "italic", "fontSize": 18, "color": "#222222", "align": "left", "baseline": "alphabetic"},
  "encoding": {"x": {"datum": 11156, "type": "quantitative", "axis": null}, "y": {"datum": 0.4479, "type": "quantitative", "axis": null}}},
 {"mark": {"type": "text", "text": "=0.7,", "font": "Liberation Serif", "fontWeight": "bold", "fontSize": 22, "color": "#222222", "align": "left", "baseline": "alphabetic"},
  "encoding": {"x": {"datum": 11370, "type": "quantitative", "axis": null}, "y": {"datum": 0.4479, "type": "quantitative", "axis": null}}},
 {"mark": {"type": "text", "text": "a", "font": "Liberation Serif", "fontStyle": "italic", "fontWeight": "bold", "fontSize": 34, "color": "#222222", "align": "left", "baseline": "alphabetic"},
  "encoding": {"x": {"datum": 12710, "type": "quantitative", "axis": null}, "y": {"datum": 0.4479, "type": "quantitative", "axis": null}}},
 {"mark": {"type": "text", "text": "Q", "font": "Liberation Serif", "fontStyle": "italic", "fontSize": 18, "color": "#222222", "align": "left", "baseline": "alphabetic"},
  "encoding": {"x": {"datum": 13246, "type": "quantitative", "axis": null}, "y": {"datum": 0.4479, "type": "quantitative", "axis": null}}},
 {"mark": {"type": "text", "text": "=0.85", "font": "Liberation Serif", "fontWeight": "bold", "fontSize": 22, "color": "#222222", "align": "left", "baseline": "alphabetic"},
  "encoding": {"x": {"datum": 13620, "type": "quantitative", "axis": null}, "y": {"datum": 0.4479, "type": "quantitative", "axis": null}}},
 {"mark": {"type": "point", "shape": "cross", "filled": true, "size": 30, "color": "#1414dc", "opacity": 1},
  "encoding": {"x": {"datum": 11132, "type": "quantitative", "axis": null}, "y": {"datum": 0.4212, "type": "quantitative", "axis": null}}},
 {"mark": {"type": "point", "shape": "cross", "filled": true, "size": 30, "color": "#e41616", "opacity": 1},
  "encoding": {"x": {"datum": 11132, "type": "quantitative", "axis": null}, "y": {"datum": 0.3907, "type": "quantitative", "axis": null}}},
 {"mark": {"type": "point", "shape": "cross", "filled": true, "size": 30, "color": "#1e8c2a", "opacity": 1},
  "encoding": {"x": {"datum": 11132, "type": "quantitative", "axis": null}, "y": {"datum": 0.3564, "type": "quantitative", "axis": null}}},
 {"mark": {"type": "text", "text": "Scale+= 1", "font": "Liberation Serif", "fontWeight": "bold", "fontSize": 22, "color": "#1414dc", "align": "left", "baseline": "alphabetic"},
  "encoding": {"x": {"datum": 11935, "type": "quantitative", "axis": null}, "y": {"datum": 0.406, "type": "quantitative", "axis": null}}},
 {"mark": {"type": "text", "text": "5717 e", "font": "Liberation Serif", "fontWeight": "bold", "fontSize": 22, "color": "#1414dc", "align": "left", "baseline": "alphabetic"},
  "encoding": {"x": {"datum": 15261, "type": "quantitative", "axis": null}, "y": {"datum": 0.406, "type": "quantitative", "axis": null}}},
 {"mark": {"type": "text", "text": "Scale+= 2", "font": "Liberation Serif", "fontWeight": "bold", "fontSize": 22, "color": "#e41616", "align": "left", "baseline": "alphabetic"},
  "encoding": {"x": {"datum": 11935, "type": "quantitative", "axis": null}, "y": {"datum": 0.3767, "type": "quantitative", "axis": null}}},
 {"mark": {"type": "text", "text": "6070 e", "font": "Liberation Serif", "fontWeight": "bold", "fontSize": 22, "color": "#e41616", "align": "left", "baseline": "alphabetic"},
  "encoding": {"x": {"datum": 15261, "type": "quantitative", "axis": null}, "y": {"datum": 0.3767, "type": "quantitative", "axis": null}}},
 {"mark": {"type": "text", "text": "Scale+= 3", "font": "Liberation Serif", "fontWeight": "bold", "fontSize": 22, "color": "#1e8c2a", "align": "left", "baseline": "alphabetic"},
  "encoding": {"x": {"datum": 11935, "type": "quantitative", "axis": null}, "y": {"datum": 0.3463, "type": "quantitative", "axis": null}}},
 {"mark": {"type": "text", "text": "6366 e", "font": "Liberation Serif", "fontWeight": "bold", "fontSize": 22, "color": "#1e8c2a", "align": "left", "baseline": "alphabetic"},
  "encoding": {"x": {"datum": 15261, "type": "quantitative", "axis": null}, "y": {"datum": 0.3463, "type": "quantitative", "axis": null}}}
],
"resolve": {"axis": {"x": "independent", "y": "independent"}}
}
